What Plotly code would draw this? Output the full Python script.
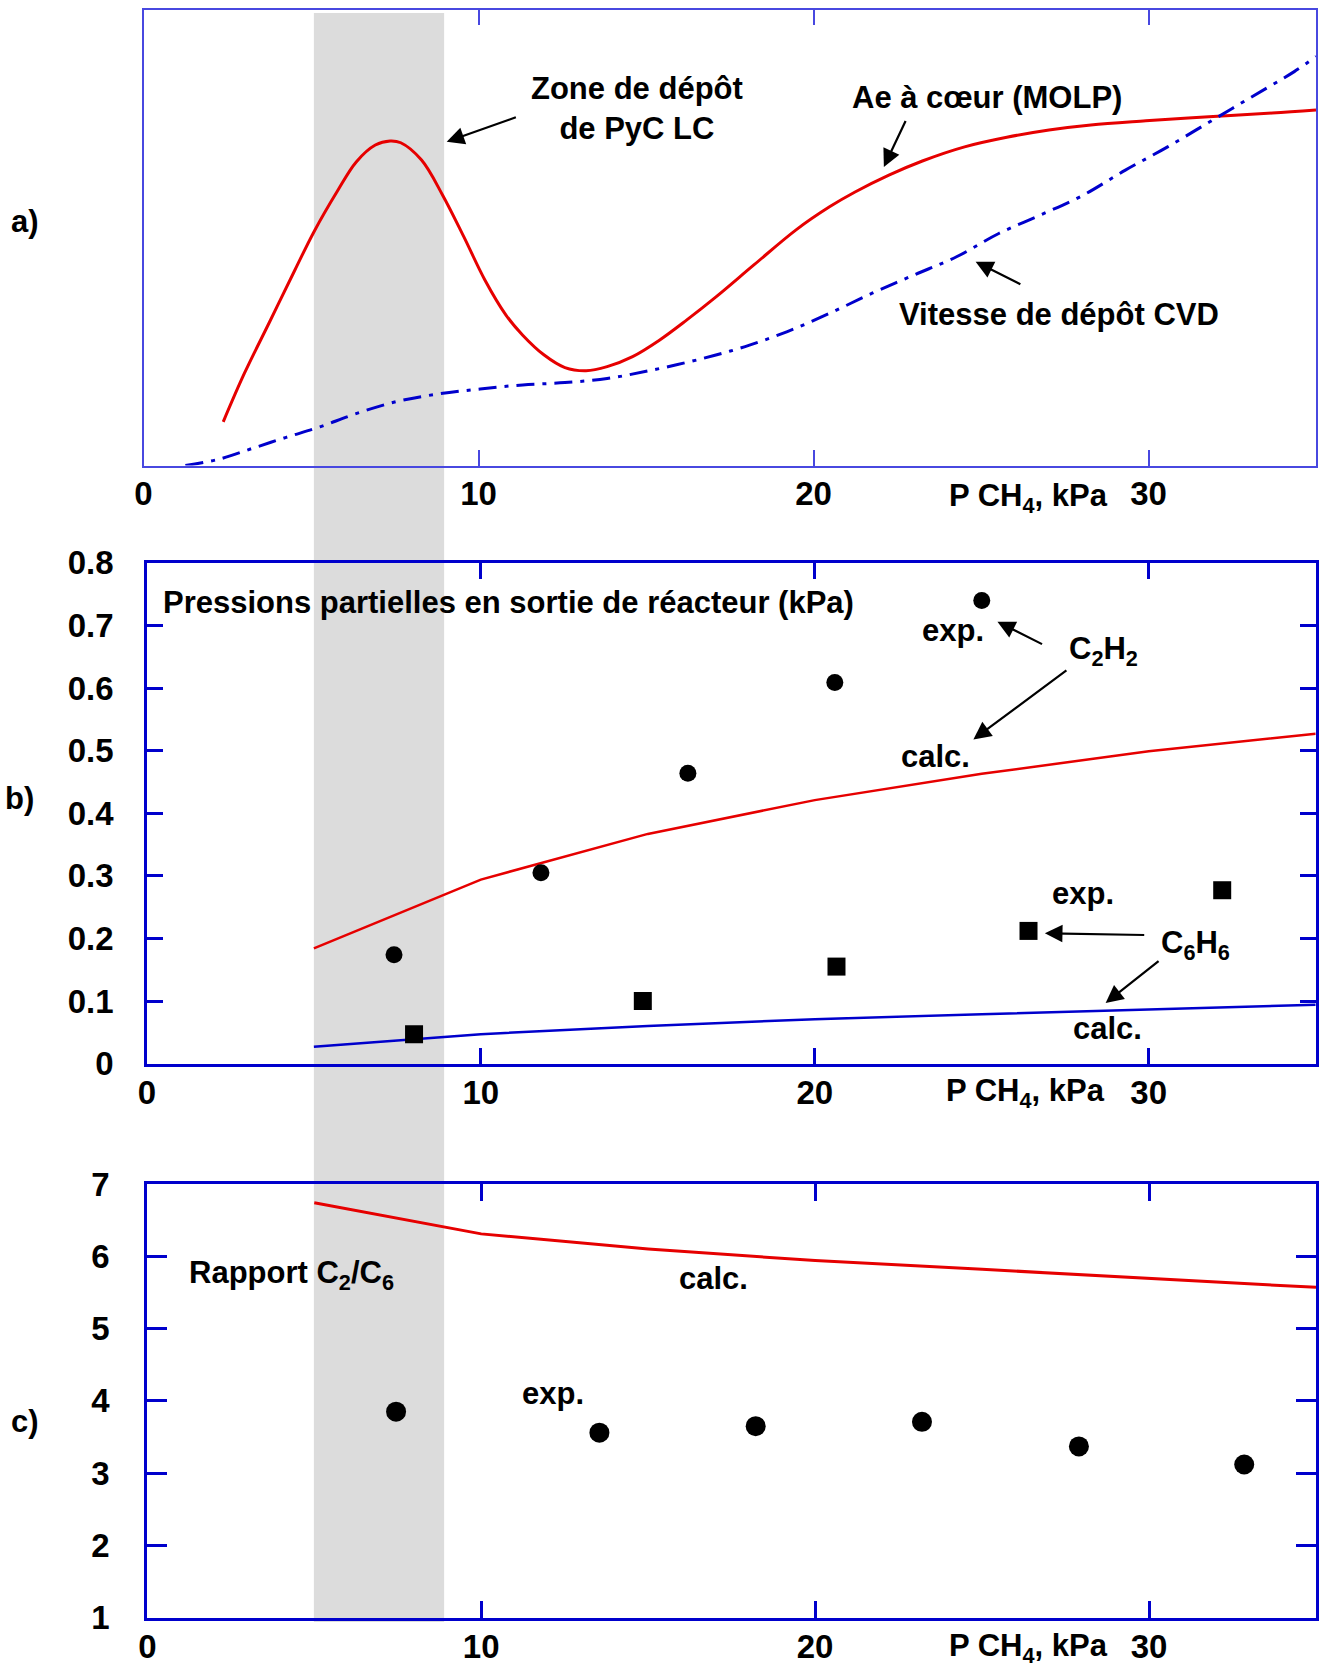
import plotly.graph_objects as go

# ---------------- data ----------------
# Panel a) (arbitrary units)
a_ae_x = [2.38, 3.01, 3.77, 4.52, 5.09, 5.78, 6.35, 6.92, 7.36, 7.68, 8.30, 8.93, 9.56, 10.19,
          10.82, 11.32, 11.95, 12.58, 13.21, 13.84, 14.6, 15.4, 16.21, 17.09, 18.22, 19.48,
          20.49, 21.24, 22.25, 23.25, 24.51, 25.77, 27.03, 28.28, 29.92, 31.80, 33.69, 35.0]
a_ae_y = [0.096, 0.202, 0.316, 0.429, 0.513, 0.601, 0.666, 0.703, 0.712, 0.708, 0.670, 0.593,
          0.502, 0.407, 0.330, 0.286, 0.243, 0.215, 0.208, 0.217, 0.239, 0.275, 0.319, 0.370,
          0.440, 0.517, 0.568, 0.600, 0.637, 0.668, 0.699, 0.720, 0.736, 0.747, 0.756, 0.765,
          0.773, 0.780]
a_cvd_x = [1.25, 2.25, 3.26, 4.26, 5.27, 6.27, 7.53, 8.79, 10.05, 11.32, 12.58, 13.84, 15.09,
           16.7, 17.96, 19.22, 20.48, 21.75, 23.0, 24.27, 25.53, 26.79, 28.05, 29.31, 30.57,
           31.83, 33.09, 34.35, 35.0]
a_cvd_y = [0.0, 0.014, 0.038, 0.062, 0.085, 0.112, 0.140, 0.157, 0.168, 0.177, 0.182, 0.191,
           0.208, 0.235, 0.261, 0.294, 0.334, 0.378, 0.418, 0.458, 0.509, 0.550, 0.593, 0.648,
           0.699, 0.754, 0.809, 0.864, 0.897]

# Panel b) partial pressures (kPa)
calc_x = [5, 10, 15, 20, 25, 30, 35]
c2h2_calc = [0.184, 0.294, 0.367, 0.421, 0.463, 0.499, 0.527]
c6h6_calc = [0.027, 0.047, 0.060, 0.071, 0.079, 0.087, 0.094]
c2h2_exp_x = [7.4, 11.8, 16.2, 20.6, 25.0]
c2h2_exp_y = [0.174, 0.305, 0.464, 0.609, 0.740]
c6h6_exp_x = [8.0, 14.85, 20.65, 26.4, 32.2]
c6h6_exp_y = [0.047, 0.100, 0.155, 0.212, 0.277]

# Panel c) C2/C6 ratio
ratio_calc = [6.74, 6.31, 6.10, 5.94, 5.82, 5.70, 5.57]
ratio_exp_x = [7.45, 13.54, 18.22, 23.2, 27.9, 32.85]
ratio_exp_y = [3.85, 3.56, 3.65, 3.71, 3.37, 3.12]

x_ticks = [0, 10, 20, 30]
x_ticktext = ["0", "10", "20", "30"]
b_ticks = [0, 0.1, 0.2, 0.3, 0.4, 0.5, 0.6, 0.7, 0.8]
b_ticktext = ["0", "0.1", "0.2", "0.3", "0.4", "0.5", "0.6", "0.7", "0.8"]
c_ticks = [1, 2, 3, 4, 5, 6, 7]
band = [5.0, 8.9]

# ---------------- figure ----------------
W, H = 1319, 1667
RED = "#e60000"
BLUE = "#0000cc"
FONT = "Liberation Sans, Arial, Helvetica, sans-serif"

def px(v):
    return v / W

def py(v):
    return 1 - v / H

fig = go.Figure()

# panel a
fig.add_trace(go.Scatter(x=a_ae_x, y=a_ae_y, mode="lines", line=dict(color=RED, width=3, shape="spline"),
                         xaxis="x", yaxis="y"))
fig.add_trace(go.Scatter(x=a_cvd_x, y=a_cvd_y, mode="lines",
                         line=dict(color=BLUE, width=3, shape="spline", dash="18px,8px,4px,8px"),
                         xaxis="x", yaxis="y"))
# panel b
fig.add_trace(go.Scatter(x=calc_x, y=c2h2_calc, mode="lines", line=dict(color=RED, width=2.5),
                         xaxis="x2", yaxis="y2"))
fig.add_trace(go.Scatter(x=calc_x, y=c6h6_calc, mode="lines", line=dict(color=BLUE, width=2.5),
                         xaxis="x2", yaxis="y2"))
fig.add_trace(go.Scatter(x=c2h2_exp_x, y=c2h2_exp_y, mode="markers",
                         marker=dict(symbol="circle", size=17, color="black"), xaxis="x2", yaxis="y2"))
fig.add_trace(go.Scatter(x=c6h6_exp_x, y=c6h6_exp_y, mode="markers",
                         marker=dict(symbol="square", size=18, color="black"), xaxis="x2", yaxis="y2"))
# panel c
fig.add_trace(go.Scatter(x=calc_x, y=ratio_calc, mode="lines", line=dict(color=RED, width=3),
                         xaxis="x3", yaxis="y3"))
fig.add_trace(go.Scatter(x=ratio_exp_x, y=ratio_exp_y, mode="markers",
                         marker=dict(symbol="circle", size=20, color="black"), xaxis="x3", yaxis="y3"))

tickfont = dict(family=FONT, size=33, color="black", weight="bold")

def xax(domain, anchor, lw, lc, tlen, tw):
    return dict(domain=domain, anchor=anchor, range=[0, 35], tickvals=x_ticks, ticktext=x_ticktext,
                ticks="inside", ticklen=tlen, tickwidth=tw, tickcolor=lc, showline=True, linecolor=lc,
                linewidth=lw, mirror="ticks", showgrid=False, zeroline=False, tickfont=tickfont,
                ticklabelstandoff=-2, automargin=False)

fig.update_layout(
    template="none",
    width=W, height=H, margin=dict(l=0, r=0, t=0, b=0, pad=0), autosize=False,
    paper_bgcolor="white", plot_bgcolor="rgba(0,0,0,0)", showlegend=False,
    font=dict(family=FONT, size=31, color="black", weight="bold"),
    xaxis=xax([px(143.5), px(1316)], "y", 1.5, "#4848e0", 16, 1.5),
    yaxis=dict(domain=[py(465.6), py(9.6)], anchor="x", range=[0, 1], showticklabels=False, ticks="",
               showline=True, linecolor="#4848e0", linewidth=1.5, mirror=True, showgrid=False,
               zeroline=False, automargin=False),
    xaxis2=xax([px(146.9), px(1315.7)], "y2", 2.5, BLUE, 16, 2.5),
    yaxis2=dict(domain=[py(1063.6), py(562.9)], anchor="x2", range=[0, 0.8], tickvals=b_ticks,
                ticktext=b_ticktext, ticks="inside", ticklen=16, tickwidth=2.5, tickcolor=BLUE,
                showline=True, linecolor=BLUE, linewidth=2.5, mirror="ticks", showgrid=False,
                zeroline=False, tickfont=tickfont, ticklabelstandoff=24, automargin=False),
    xaxis3=xax([px(147.3), px(1316)], "y3", 3, BLUE, 17, 3),
    yaxis3=dict(domain=[py(1617.7), py(1184)], anchor="x3", range=[1, 7], tickvals=c_ticks,
                ticks="inside", ticklen=20, tickwidth=3, tickcolor=BLUE,
                showline=True, linecolor=BLUE, linewidth=3, mirror="ticks", showgrid=False,
                zeroline=False, tickfont=tickfont, ticklabelstandoff=28, automargin=False),
)

# grey band across the three panels
fig.add_shape(type="rect", xref="x2", yref="paper", x0=band[0], x1=band[1], y0=py(1622), y1=py(13),
              fillcolor="#dcdcdc", line=dict(width=0), layer="below")

def text(x, y, t, xref, yref, xanchor="center", size=31):
    fig.add_annotation(x=x, y=y, text=t, xref=xref, yref=yref, showarrow=False, xanchor=xanchor,
                       yanchor="middle", font=dict(family=FONT, size=size, color="black", weight="bold"))

def arrow(x0, y0, x1, y1, xref, yref):
    fig.add_annotation(x=x1, y=y1, ax=x0, ay=y0, xref=xref, yref=yref, axref=xref, ayref=yref, text="",
                       showarrow=True, arrowhead=2, arrowsize=1.6, arrowwidth=2.2, arrowcolor="black")

# panel a annotations
text(14.72, 0.784, "Zone de dépôt<br>de PyC LC", "x", "y")
arrow(11.16, 0.765, 9.05, 0.710, "x", "y")
text(25.17, 0.807, "Ae à cœur (MOLP)", "x", "y")
arrow(22.77, 0.759, 22.10, 0.655, "x", "y")
text(27.32, 0.332, "Vitesse de dépôt CVD", "x", "y")
arrow(26.22, 0.396, 24.84, 0.447, "x", "y")
text(26.41, -0.071, "P CH<sub>4</sub>, kPa", "x", "y domain")
text(px(25), py(221), "a)", "paper", "paper")

# panel b annotations
text(0.41, 0.736, "Pressions partielles en sortie de réacteur (kPa)", "x2", "y2", xanchor="left")
text(24.14, 0.692, "exp.", "x2", "y2")
arrow(26.85, 0.669, 25.47, 0.706, "x2", "y2")
text(28.64, 0.659, "C<sub>2</sub>H<sub>2</sub>", "x2", "y2")
arrow(27.58, 0.630, 24.75, 0.518, "x2", "y2")
text(23.62, 0.491, "calc.", "x2", "y2")
text(28.04, 0.2725, "exp.", "x2", "y2")
arrow(29.91, 0.2054, 26.89, 0.2083, "x2", "y2")
text(31.41, 0.1895, "C<sub>6</sub>H<sub>6</sub>", "x2", "y2")
arrow(30.34, 0.1655, 28.71, 0.097, "x2", "y2")
text(28.76, 0.0553, "calc.", "x2", "y2")
text(26.31, -0.0597, "P CH<sub>4</sub>, kPa", "x2", "y2 domain")
text(px(19), py(798), "b)", "paper", "paper")

# panel c annotations
text(1.2, 5.741, "Rapport C<sub>2</sub>/C<sub>6</sub>", "x3", "y3", xanchor="left")
text(12.16, 4.108, "exp.", "x3", "y3")
text(16.95, 5.686, "calc.", "x3", "y3")
text(26.38, -0.069, "P CH<sub>4</sub>, kPa", "x3", "y3 domain")
text(px(25), py(1421.7), "c)", "paper", "paper")

post = (
    "var d=document.getElementById('{plot_id}');"
    "d.style.position='fixed';d.style.left='0px';d.style.top='0px';d.style.margin='0';"
    "document.documentElement.style.margin='0';document.documentElement.style.padding='0';"
    "document.documentElement.style.overflow='hidden';"
    "document.body.style.margin='0';document.body.style.padding='0';document.body.style.overflow='hidden';"
)
fig.write_html("out.html", config={"displayModeBar": False}, post_script=post)
